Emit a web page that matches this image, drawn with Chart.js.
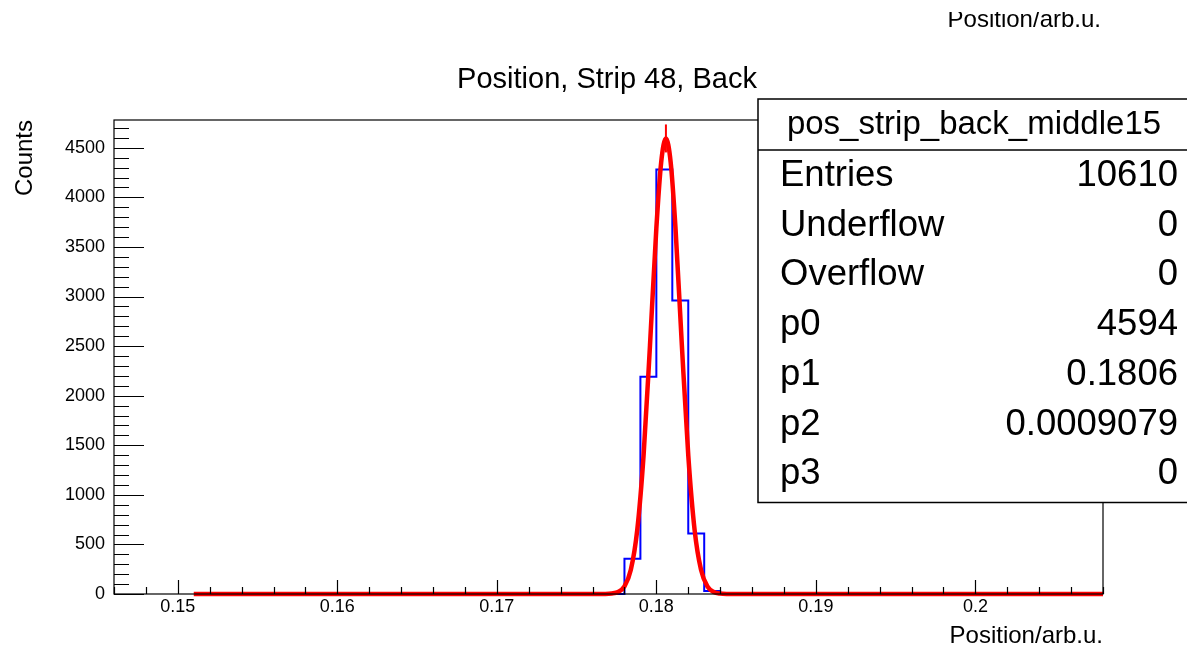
<!DOCTYPE html>
<html>
<head>
<meta charset="utf-8">
<script src="https://cdn.jsdelivr.net/npm/chart.js"></script>
<style>
  html, body { margin: 0; padding: 0; background: #fff; }
  #wrap { width: 1187px; height: 650px; position: relative; }
</style>
</head>
<body>
<div id="wrap"><canvas id="posChart"></canvas></div>
<script>
// Histogram: bin low edges and counts around the peak (bin width 0.001)
const binLow = [0.177, 0.178, 0.179, 0.180, 0.181, 0.182, 0.183, 0.184];
const binCounts = [0, 355, 2190, 4280, 2960, 610, 30, 0];
const histMin = 0.146, histMax = 0.208, binWidth = 0.001;
const yMax = 4780;

// Gaussian fit curve, sampled
const fitX = [0.151, 0.1768, 0.1772, 0.1776, 0.178, 0.1784, 0.1788, 0.1792, 0.1796, 0.18, 0.1803,
              0.1806, 0.1809, 0.1812, 0.1816, 0.182, 0.1824, 0.1828, 0.1832, 0.1836, 0.184, 0.1844, 0.208];
const fitY = [0, 1, 5, 20, 76, 244, 643, 1400, 2505, 3690, 4350,
              4594, 4350, 3690, 2505, 1400, 643, 244, 76, 20, 4, 1, 0];
const peakX = 0.1806, peakY = 4594;

// Axis ticks
const xMajor = [0.15, 0.16, 0.17, 0.18, 0.19, 0.2];
const xLabels = ['0.15', '0.16', '0.17', '0.18', '0.19', '0.2'];
const yMajor = [0, 500, 1000, 1500, 2000, 2500, 3000, 3500, 4000, 4500];
const yLabels = ['0', '500', '1000', '1500', '2000', '2500', '3000', '3500', '4000', '4500'];

// Stats box
const statsName = 'pos_strip_back_middle15';
const statsKeys = ['Entries', 'Underflow', 'Overflow', 'p0', 'p1', 'p2', 'p3'];
const statsVals = ['10610', '0', '0', '4594', '0.1806', '0.0009079', '0'];

const plotTitle = 'Position, Strip 48, Back';
const xTitle = 'Position/arb.u.';
const yTitle = 'Counts';

const FONT = '"Liberation Sans", Arial, Helvetica, sans-serif';

// step points for the histogram outline (empty bins sit on the frame)
const histPoints = [];
binLow.forEach((x, i) => histPoints.push({ x: x, y: binCounts[i] }));
histPoints.push({ x: binLow[binLow.length - 1] + binWidth, y: 0 });

const fitPoints = fitX.map((x, i) => ({ x: x, y: fitY[i] }));

const rootStyle = {
  id: 'rootStyle',
  afterDatasetsDraw(chart) {
    const ctx = chart.ctx;
    const xs = chart.scales.x, ys = chart.scales.y;
    const a = chart.chartArea;
    ctx.save();
    ctx.strokeStyle = '#000';
    ctx.fillStyle = '#000';

    // frame
    ctx.lineWidth = 1.2;
    ctx.strokeRect(a.left, a.top, a.right - a.left, a.bottom - a.top);

    // x ticks (inside, from the bottom)
    ctx.beginPath();
    for (let i = 146; i <= 208; i += 2) {
      const px = Math.round(xs.getPixelForValue(i / 1000)) + 0.5;
      const len = (i % 10 === 0) ? 14 : 7;
      ctx.moveTo(px, a.bottom);
      ctx.lineTo(px, a.bottom - len);
    }
    // y ticks (inside, from the left)
    for (let v = 0; v <= 4700; v += 100) {
      const py = Math.round(ys.getPixelForValue(v)) + 0.5;
      const len = (v % 500 === 0) ? 30 : 15;
      ctx.moveTo(a.left, py);
      ctx.lineTo(a.left + len, py);
    }
    ctx.stroke();

    // tick labels
    ctx.font = '18px ' + FONT;
    ctx.textAlign = 'center';
    ctx.textBaseline = 'middle';
    xMajor.forEach((v, i) => ctx.fillText(xLabels[i], xs.getPixelForValue(v), 607));
    ctx.textAlign = 'right';
    yMajor.forEach((v, i) => ctx.fillText(yLabels[i], 105, ys.getPixelForValue(v)));

    // axis titles
    ctx.font = '24px ' + FONT;
    ctx.textAlign = 'right';
    ctx.fillText(xTitle, 1103, 636);
    ctx.save();
    ctx.translate(25, 120);
    ctx.rotate(-Math.PI / 2);
    ctx.textAlign = 'right';
    ctx.fillText(yTitle, 0, 0);
    ctx.restore();

    // title
    ctx.font = '29px ' + FONT;
    ctx.textAlign = 'center';
    ctx.fillText(plotTitle, 607, 80);

    // duplicate axis title at the very top, clipped
    ctx.save();
    ctx.beginPath();
    ctx.rect(0, 12, chart.width, 40);
    ctx.clip();
    ctx.font = '24px ' + FONT;
    ctx.textAlign = 'right';
    ctx.fillText(xTitle, 1101, 20);
    ctx.restore();

    // stats box
    const bx = 758, by = 99, bb = 502.5, br = 1200;
    ctx.fillStyle = '#fff';
    ctx.fillRect(bx, by, br - bx, bb - by);
    ctx.lineWidth = 1.5;
    ctx.strokeRect(bx, by, br - bx, bb - by);
    ctx.beginPath();
    ctx.moveTo(bx, 150);
    ctx.lineTo(br, 150);
    ctx.stroke();

    ctx.fillStyle = '#000';
    ctx.font = '33px ' + FONT;
    ctx.textAlign = 'center';
    ctx.fillText(statsName, 974, 125);
    ctx.font = '36.5px ' + FONT;
    statsKeys.forEach((k, i) => {
      const y = 176 + i * 49.7;
      ctx.textAlign = 'left';
      ctx.fillText(k, 780, y);
      ctx.textAlign = 'right';
      ctx.fillText(statsVals[i], 1178, y);
    });
    ctx.restore();
  }
};

new Chart(document.getElementById('posChart').getContext('2d'), {
  type: 'line',
  data: {
    datasets: [
      {
        label: 'fit',
        data: fitPoints,
        borderColor: '#ff0000',
        borderWidth: 4.5,
        pointRadius: 0,
        cubicInterpolationMode: 'monotone',
        fill: false,
        clip: 5,
        order: 0
      },
      {
        label: 'peak',
        data: [{ x: peakX, y: peakY }],
        showLine: false,
        pointStyle: 'line',
        rotation: 90,
        pointRadius: 14,
        borderColor: '#ff0000',
        borderWidth: 2,
        clip: 20,
        order: 0
      },
      {
        label: 'hist',
        data: histPoints,
        borderColor: '#0000ff',
        borderWidth: 2,
        pointRadius: 0,
        stepped: 'before',
        fill: false,
        clip: 3,
        order: 1
      }
    ]
  },
  options: {
    responsive: true,
    maintainAspectRatio: false,
    animation: false,
    layout: { padding: { left: 114, right: 84, top: 120, bottom: 56 } },
    scales: {
      x: { type: 'linear', min: histMin, max: histMax, display: false },
      y: { type: 'linear', min: 0, max: yMax, display: false }
    },
    plugins: {
      legend: { display: false },
      tooltip: { enabled: false }
    }
  },
  plugins: [rootStyle]
});
</script>
</body>
</html>
